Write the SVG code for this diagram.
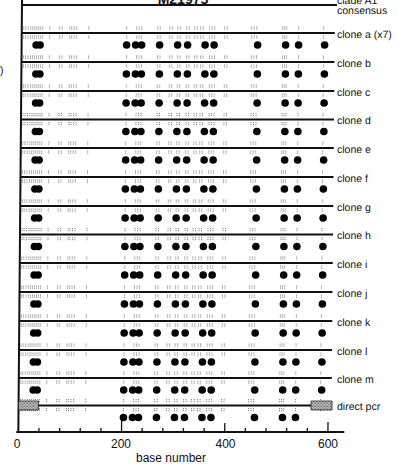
<svg xmlns="http://www.w3.org/2000/svg" xmlns:xlink="http://www.w3.org/1999/xlink" width="398" height="464" viewBox="0 0 398 464">
<style>
.lbl{font-family:"Liberation Sans",Arial,sans-serif;font-size:10.5px;fill:#111}
.ax{font-family:"Liberation Sans",Arial,sans-serif;font-size:12px;fill:#111;text-anchor:middle}
.ln{stroke:#111;stroke-width:1.9;fill:none}
.mk{stroke:#666;stroke-width:0.8;fill:none;stroke-dasharray:1.2 0.8}
.dot{fill:#000}
.tk{stroke:#111;stroke-width:1.3}
</style>
<defs>
<pattern id="hatch" width="3" height="3" patternUnits="userSpaceOnUse">
<rect width="3" height="3" fill="#eee"/>
<rect width="1.5" height="1.5" fill="#444"/>
<rect x="1.5" y="1.5" width="1.5" height="1.5" fill="#666"/>
</pattern>
<path id="marks" class="mk" d="M24 -6.5v4M24 2.5v4M26 -6.5v4M26 2.5v4M28.5 -6.5v4M28.5 2.5v4M31 -6.5v4M31 2.5v4M33 -6.5v4M33 2.5v4M35 -6.5v4M35 2.5v4M37 -6.5v4M37 2.5v4M39 -6.5v4M39 2.5v4M41 -6.5v4M41 2.5v4M43 -6.5v4M43 2.5v4M50 -6.5v4M50 2.5v4M60 -6.5v4M60 2.5v4M62.5 -6.5v4M62.5 2.5v4M70 -6.5v4M70 2.5v4M72 -6.5v4M72 2.5v4M74.5 -6.5v4M74.5 2.5v4M77 -6.5v4M77 2.5v4M89 -6.5v4M89 2.5v4M127 -6.5v4M127 2.5v4M137 -6.5v4M137 2.5v4M139.5 -6.5v4M139.5 2.5v4M142 -6.5v4M142 2.5v4M158 -6.5v4M158 2.5v4M160.5 -6.5v4M160.5 2.5v4M170 -6.5v4M170 2.5v4M172.5 -6.5v4M172.5 2.5v4M178 -6.5v4M178 2.5v4M180.5 -6.5v4M180.5 2.5v4M187 -6.5v4M187 2.5v4M189.5 -6.5v4M189.5 2.5v4M195 -6.5v4M195 2.5v4M197.5 -6.5v4M197.5 2.5v4M201 -6.5v4M201 2.5v4M203.5 -6.5v4M203.5 2.5v4M210 -6.5v4M210 2.5v4M212.5 -6.5v4M212.5 2.5v4M215 -6.5v4M215 2.5v4M225 -6.5v4M225 2.5v4M227.5 -6.5v4M227.5 2.5v4M252 -6.5v4M252 2.5v4M254.5 -6.5v4M254.5 2.5v4M257 -6.5v4M257 2.5v4M283 -6.5v4M283 2.5v4M285 -6.5v4M285 2.5v4M287 -6.5v4M287 2.5v4M299 -6.5v4M299 2.5v4M324 -6.5v4M324 2.5v4"/>
<g id="dotsL" class="dot"><circle cx="36.5" cy="12" r="3.8"/><circle cx="40.5" cy="12" r="3.8"/></g>
<g id="dotsM" class="dot"><circle cx="127" cy="12" r="3.8"/><circle cx="136" cy="12" r="3.8"/><circle cx="142" cy="12" r="3.8"/><circle cx="160" cy="12" r="3.8"/><circle cx="178" cy="12" r="3.8"/><circle cx="188" cy="12" r="3.8"/><circle cx="205.5" cy="12" r="3.8"/><circle cx="214.5" cy="12" r="3.8"/><circle cx="258" cy="12" r="3.8"/><circle cx="286" cy="12" r="3.8"/><circle cx="299" cy="12" r="3.8"/></g>
<g id="clonerow"><use xlink:href="#marks"/><line class="ln" x1="22" y1="0" x2="335" y2="0"/><use xlink:href="#dotsL"/><use xlink:href="#dotsM"/><circle class="dot" cx="325" cy="12" r="3.8"/></g>
</defs>
<rect width="398" height="464" fill="#fff"/>
<text x="0" y="74" class="lbl">)</text>
<g id="plot" transform="matrix(1 0 -0.0085 1 0 0)">
<g id="axes">
<line x1="22" y1="0" x2="22" y2="433" stroke="#111" stroke-width="2"/>
<line x1="20" y1="432" x2="348" y2="432" stroke="#111" stroke-width="2"/>
<path class="tk" d="M42.6 428v4M63.3 428v4M83.9 428v4M104.6 428v4M125.2 416v16M145.8 428v4M166.5 428v4M187.1 428v4M207.8 428v4M228.4 423v9M249 428v4M269.7 428v4M290.3 428v4M311 428v4M331.6 422v10"/>
</g>
<g id="consensus">
<line class="ln" x1="22" y1="5" x2="337" y2="5" stroke-width="2"/>
<text x="183" y="3.5" font-family="Liberation Sans,Arial,sans-serif" font-size="14" font-weight="bold" text-anchor="middle" fill="#111">M21975</text>
<text x="337" y="3.5" class="lbl">clade A1</text>
<text x="337.1" y="14.5" class="lbl">consensus</text>
</g>
<g id="clone-a" transform="translate(0,33)"><use xlink:href="#clonerow"/><text x="337.3" y="4.5" class="lbl">clone a (x7)</text></g>
<g id="clone-b" transform="translate(0,62)"><use xlink:href="#clonerow"/><text x="337.5" y="4.5" class="lbl">clone b</text></g>
<g id="clone-c" transform="translate(0,91)"><use xlink:href="#clonerow"/><text x="337.8" y="4.5" class="lbl">clone c</text></g>
<g id="clone-d" transform="translate(0,119.5)"><use xlink:href="#clonerow"/><text x="338" y="4.5" class="lbl">clone d</text></g>
<g id="clone-e" transform="translate(0,148)"><use xlink:href="#clonerow"/><text x="338.3" y="4.5" class="lbl">clone e</text></g>
<g id="clone-f" transform="translate(0,177)"><use xlink:href="#clonerow"/><text x="338.5" y="4.5" class="lbl">clone f</text></g>
<g id="clone-g" transform="translate(0,206)"><use xlink:href="#clonerow"/><text x="338.8" y="4.5" class="lbl">clone g</text></g>
<g id="clone-h" transform="translate(0,234.5)"><use xlink:href="#clonerow"/><text x="339" y="4.5" class="lbl">clone h</text></g>
<g id="clone-i" transform="translate(0,263)"><use xlink:href="#clonerow"/><text x="339.2" y="4.5" class="lbl">clone i</text></g>
<g id="clone-j" transform="translate(0,292)"><use xlink:href="#clonerow"/><text x="339.5" y="4.5" class="lbl">clone j</text></g>
<g id="clone-k" transform="translate(0,321)"><use xlink:href="#clonerow"/><text x="339.7" y="4.5" class="lbl">clone k</text></g>
<g id="clone-l" transform="translate(0,350)"><use xlink:href="#clonerow"/><text x="340" y="4.5" class="lbl">clone l</text></g>
<g id="clone-m" transform="translate(0,378)"><use xlink:href="#clonerow"/><text x="340.2" y="4.5" class="lbl">clone m</text></g>
<g id="direct-pcr" transform="translate(0,405.5)">
<use xlink:href="#marks"/>
<line class="ln" x1="22" y1="0" x2="315" y2="0"/>
<use xlink:href="#dotsM"/>
<rect x="22" y="-4.5" width="20" height="9" fill="url(#hatch)" stroke="#222" stroke-width="0.8"/>
<rect x="314.5" y="-4.5" width="21" height="9" fill="url(#hatch)" stroke="#222" stroke-width="0.8"/>
<text x="340.5" y="4.5" class="lbl">direct pcr</text>
</g>
</g>
<g id="axis-labels">
<text x="17" y="447.5" class="ax">0</text>
<text x="121" y="447.5" class="ax">200</text>
<text x="225.5" y="447.5" class="ax">400</text>
<text x="328" y="447.5" class="ax">600</text>
<text x="171" y="462" class="ax">base number</text>
</g>
</svg>
